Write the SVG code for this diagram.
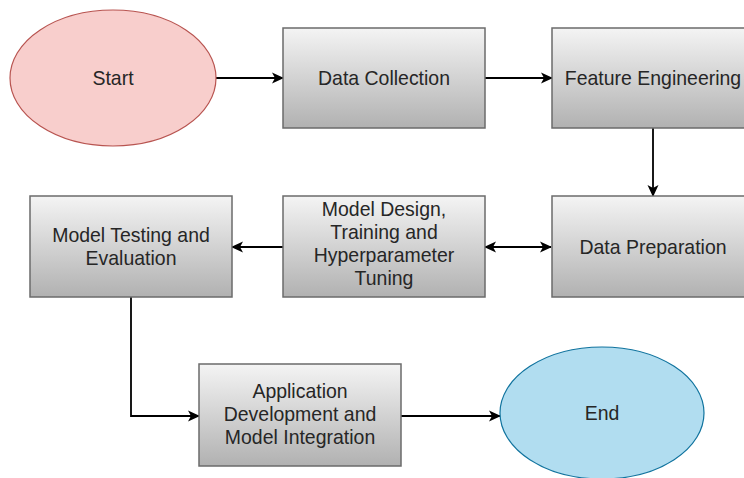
<svg xmlns="http://www.w3.org/2000/svg" width="744" height="478" viewBox="0 0 744 478">
  <defs>
    <linearGradient id="boxFill" x1="0" y1="0" x2="0" y2="1">
      <stop offset="0" stop-color="#f4f4f4"/>
      <stop offset="1" stop-color="#b1b1b1"/>
    </linearGradient>
    <marker id="arrow" viewBox="0 0 12 12" refX="11" refY="6" markerWidth="12" markerHeight="12" markerUnits="userSpaceOnUse" orient="auto-start-reverse">
      <path d="M0,0.5 L12,6 L0,11.5 L3,6 Z" fill="#000"/>
    </marker>
  </defs>
  <style>
    .box { fill: url(#boxFill); stroke: #6b6b6b; stroke-width: 1.5; }
    .label { font-family: "Liberation Sans", Arial, sans-serif; font-size: 20.5px; fill: #262626; text-anchor: middle; }
    .edge { fill: none; stroke: #000; stroke-width: 1.8; }
  </style>
  <rect width="744" height="478" fill="#ffffff"/>

  <!-- connectors -->
  <g id="connectors">
    <line class="edge" x1="216" y1="78" x2="283" y2="78" marker-end="url(#arrow)"/>
    <line class="edge" x1="485" y1="78" x2="552" y2="78" marker-end="url(#arrow)"/>
    <line class="edge" x1="653" y1="128" x2="653" y2="196" marker-end="url(#arrow)"/>
    <line class="edge" x1="283" y1="247" x2="232" y2="247" marker-end="url(#arrow)"/>
    <line class="edge" x1="485" y1="247" x2="551" y2="247" marker-start="url(#arrow)" marker-end="url(#arrow)"/>
    <path class="edge" d="M131,297 V416 H199" marker-end="url(#arrow)"/>
    <line class="edge" x1="401" y1="416" x2="500" y2="416" marker-end="url(#arrow)"/>
  </g>

  <!-- labels use a slightly narrowed face: each text is squeezed horizontally about its centre -->
  <g id="start">
    <ellipse cx="113" cy="78" rx="103" ry="68" fill="#f8cecc" stroke="#b85450" stroke-width="1.2"/>
    <text class="label" transform="translate(113,0) scale(0.95,1)" x="0" y="85">Start</text>
  </g>

  <g id="data-collection">
    <rect class="box" x="283" y="28" width="202" height="100"/>
    <text class="label" transform="translate(384,0) scale(0.95,1)" x="0" y="85">Data Collection</text>
  </g>

  <g id="feature-engineering">
    <rect class="box" x="552" y="28" width="202" height="100"/>
    <text class="label" transform="translate(653,0) scale(0.95,1)" x="0" y="85">Feature Engineering</text>
  </g>

  <g id="data-preparation">
    <rect class="box" x="552" y="196" width="202" height="101"/>
    <text class="label" transform="translate(653,0) scale(0.95,1)" x="0" y="254">Data Preparation</text>
  </g>

  <g id="model-design">
    <rect class="box" x="283" y="196" width="202" height="101"/>
    <g transform="translate(384,0) scale(0.95,1)">
      <text class="label" x="0" y="216">Model Design,</text>
      <text class="label" x="0" y="239">Training and</text>
      <text class="label" x="0" y="262">Hyperparameter</text>
      <text class="label" x="0" y="285">Tuning</text>
    </g>
  </g>

  <g id="model-testing">
    <rect class="box" x="30" y="196" width="202" height="101"/>
    <g transform="translate(131,0) scale(0.95,1)">
      <text class="label" x="0" y="242">Model Testing and</text>
      <text class="label" x="0" y="265">Evaluation</text>
    </g>
  </g>

  <g id="application-development">
    <rect class="box" x="199" y="364" width="202" height="102"/>
    <g transform="translate(300,0) scale(0.95,1)">
      <text class="label" x="0" y="398">Application</text>
      <text class="label" x="0" y="421">Development and</text>
      <text class="label" x="0" y="444">Model Integration</text>
    </g>
  </g>

  <g id="end">
    <ellipse cx="602" cy="413" rx="102" ry="66" fill="#b1ddf0" stroke="#10739e" stroke-width="1.2"/>
    <text class="label" transform="translate(602,0) scale(0.95,1)" x="0" y="420">End</text>
  </g>
</svg>
